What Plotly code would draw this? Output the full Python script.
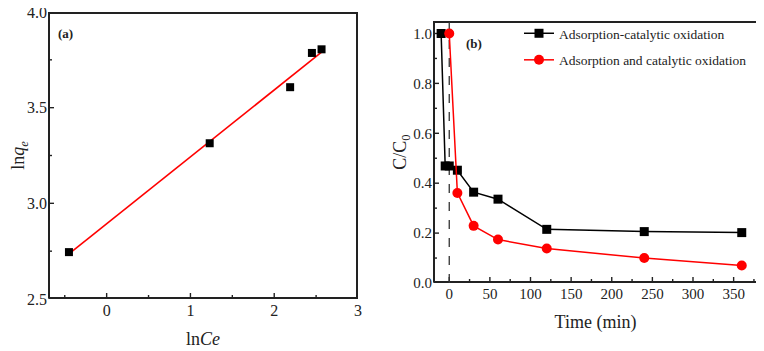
import plotly.graph_objects as go

# ---- Panel (a): ln qe vs ln Ce ----
lnCe = [-0.45, 1.23, 2.19, 2.45, 2.565]
lnqe = [2.745, 3.314, 3.607, 3.786, 3.805]
fit_x = [-0.45, 2.565]
fit_y = [2.736, 3.790]
a_xrange = [-0.7, 3.0]
a_yrange = [2.5, 4.0]
a_xticks = [0, 1, 2, 3]
a_xminor = [-0.5, 0.5, 1.5, 2.5]
a_yticks = [2.5, 3.0, 3.5, 4.0]
a_yminor = [2.75, 3.25, 3.75]

# ---- Panel (b): C/C0 vs time ----
t_black = [-10, -5, 0, 10, 30, 60, 120, 240, 360]
c_black = [1.0, 0.469, 0.469, 0.452, 0.364, 0.336, 0.215, 0.206, 0.202]
t_red = [0, 10, 30, 60, 120, 240, 360]
c_red = [1.0, 0.361, 0.229, 0.174, 0.138, 0.100, 0.070]
name_black = "Adsorption-catalytic oxidation"
name_red = "Adsorption and catalytic oxidation"
b_xrange = [-20, 380]
b_yrange = [0, 1.05]
b_xticks = [0, 50, 100, 150, 200, 250, 300, 350]
b_xminor = [25, 75, 125, 175, 225, 275, 325, 375]
b_yticks = [0.0, 0.2, 0.4, 0.6, 0.8, 1.0]
b_yminor = [0.1, 0.3, 0.5, 0.7, 0.9]
vline_x = 0

W, H = 764, 351
OFF = 8  # page offset of the figure inside the browser window
FONT = "Liberation Serif"
AX = "#222222"

def px_x(p):
    return (p - OFF) / W

def px_y(p):
    return 1 - (p - OFF) / H

# panel boxes in screen pixels (left, right, top, bottom)
A_BOX = (48, 358, 12, 299)
B_BOX = (433, 758, 21, 283)

fig = go.Figure()

def frame_and_ticks(xa, ya, box, xr, yr, xt, xm, yt, ym):
    wpx, hpx = box[1] - box[0], box[3] - box[2]
    ux = (xr[1] - xr[0]) / wpx   # data units per pixel
    uy = (yr[1] - yr[0]) / hpx
    fx = [xr[0] + ux, xr[1] - ux, xr[1] - ux, xr[0] + ux, xr[0] + ux]
    fy = [yr[0] + uy, yr[0] + uy, yr[1] - uy, yr[1] - uy, yr[0] + uy]
    fig.add_trace(go.Scatter(x=fx, y=fy, mode="lines", line=dict(color=AX, width=2),
                             showlegend=False, hoverinfo="skip", xaxis=xa, yaxis=ya))
    tx, ty = [], []
    for vals, ln in ((xt, 6), (xm, 4)):
        for v in vals:
            tx += [v, v, None]
            ty += [yr[0], yr[0] + ln * uy, None]
    for vals, ln in ((yt, 6), (ym, 4)):
        for v in vals:
            tx += [xr[0], xr[0] + ln * ux, None]
            ty += [v, v, None]
    fig.add_trace(go.Scatter(x=tx, y=ty, mode="lines", line=dict(color=AX, width=1.4),
                             showlegend=False, hoverinfo="skip", xaxis=xa, yaxis=ya))

frame_and_ticks("x", "y", A_BOX, a_xrange, a_yrange, a_xticks, a_xminor, a_yticks, a_yminor)
frame_and_ticks("x2", "y2", B_BOX, b_xrange, b_yrange, b_xticks, b_xminor, b_yticks, b_yminor)

fig.add_trace(go.Scatter(x=[vline_x, vline_x], y=b_yrange, mode="lines",
                         line=dict(color="#333333", width=1.3, dash="dash"),
                         showlegend=False, hoverinfo="skip", xaxis="x2", yaxis="y2"))

fig.add_trace(go.Scatter(x=fit_x, y=fit_y, mode="lines",
                         line=dict(color="#ff0000", width=1.6),
                         showlegend=False, xaxis="x", yaxis="y"))
fig.add_trace(go.Scatter(x=lnCe, y=lnqe, mode="markers",
                         marker=dict(symbol="square", size=8, color="black"),
                         showlegend=False, xaxis="x", yaxis="y"))

fig.add_trace(go.Scatter(x=t_black, y=c_black, mode="lines+markers", name=name_black,
                         line=dict(color="black", width=1.5),
                         marker=dict(symbol="square", size=9, color="black"),
                         legendgroup="a", xaxis="x2", yaxis="y2"))
fig.add_trace(go.Scatter(x=t_red, y=c_red, mode="lines+markers", name=name_red,
                         line=dict(color="#ff0000", width=1.5),
                         marker=dict(symbol="circle", size=10, color="#ff0000"),
                         legendgroup="b", xaxis="x2", yaxis="y2"))

def axis_common(size):
    return dict(showline=False, ticks="", showgrid=False, zeroline=False, automargin=False,
                ticklabeloverflow="allow",
                tickfont=dict(family=FONT, size=size, color="#222"))

fig.update_layout(
    width=W, height=H,
    margin=dict(l=0, r=0, t=0, b=0, autoexpand=False),
    paper_bgcolor="white", plot_bgcolor="white",
    font=dict(family=FONT, color="#222"),
    xaxis=dict(**axis_common(16), domain=[px_x(A_BOX[0]), px_x(A_BOX[1])], range=a_xrange,
               tickvals=a_xticks,
               title=dict(text="ln<i>Ce</i>", font=dict(family=FONT, size=18), standoff=14),
               anchor="y"),
    yaxis=dict(**axis_common(16), domain=[px_y(A_BOX[3]), px_y(A_BOX[2])], range=a_yrange,
               tickvals=a_yticks, tickformat=".1f",
               title=dict(text="ln<i>q</i><sub><i>e</i></sub>", font=dict(family=FONT, size=18), standoff=1),
               anchor="x"),
    xaxis2=dict(**axis_common(15), domain=[px_x(B_BOX[0]), px_x(B_BOX[1])], range=b_xrange,
                tickvals=b_xticks,
                title=dict(text="Time (min)", font=dict(family=FONT, size=18), standoff=14),
                anchor="y2"),
    yaxis2=dict(**axis_common(15), domain=[px_y(B_BOX[3]), px_y(B_BOX[2])], range=b_yrange,
                tickvals=b_yticks, tickformat=".1f",
                title=dict(text="C/C<sub>0</sub>", font=dict(family=FONT, size=18), standoff=0),
                anchor="x2"),
    legend=dict(x=px_x(519), y=px_y(18), xanchor="left", yanchor="top",
                bgcolor="rgba(0,0,0,0)", font=dict(family=FONT, size=13.5, color="#222"),
                tracegroupgap=6),
    showlegend=True,
)

fig.add_annotation(x=px_x(65), y=px_y(33), xref="paper", yref="paper", text="<b>(a)</b>",
                   xanchor="center", yanchor="middle",
                   showarrow=False, font=dict(family=FONT, size=13, color="#222"))
fig.add_annotation(x=px_x(474), y=px_y(43), xref="paper", yref="paper", text="<b>(b)</b>",
                   xanchor="center", yanchor="middle",
                   showarrow=False, font=dict(family=FONT, size=13, color="#222"))

fig.write_html("out.html")
